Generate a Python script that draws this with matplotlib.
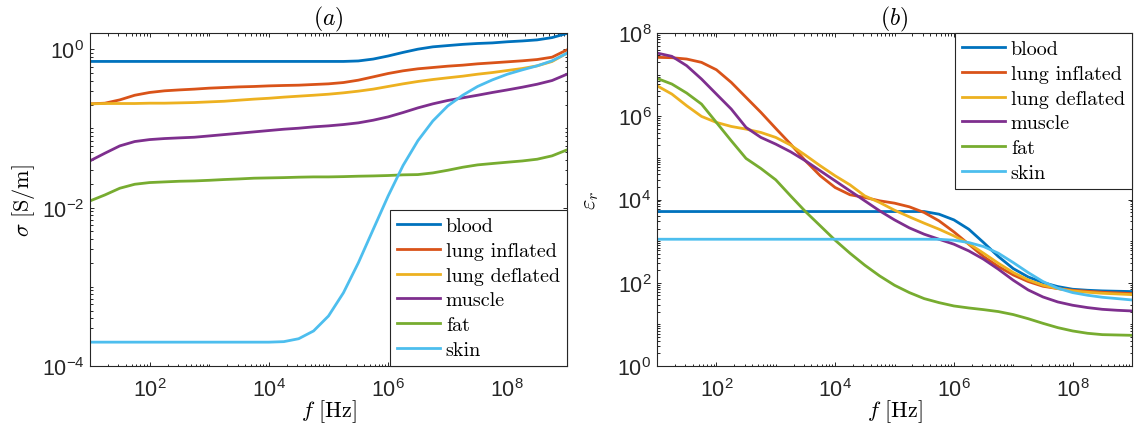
import numpy as np
import matplotlib
matplotlib.use("Agg")
import matplotlib.pyplot as plt
from matplotlib.ticker import LogLocator, FuncFormatter, NullFormatter
from matplotlib.font_manager import FontProperties

plt.rcParams['font.family'] = ['Liberation Sans', 'DejaVu Sans']
plt.rcParams['mathtext.fontset'] = 'custom'
plt.rcParams['mathtext.rm'] = 'Liberation Sans'
plt.rcParams['mathtext.it'] = 'Liberation Sans:italic'
plt.rcParams['mathtext.bf'] = 'Liberation Sans:bold'

# frequency grid in Hz (quarter-decade steps, 10 Hz .. 1 GHz)
freq = [1.00e1, 1.78e1, 3.16e1, 5.62e1, 1.00e2, 1.78e2, 3.16e2, 5.62e2,
        1.00e3, 1.78e3, 3.16e3, 5.62e3, 1.00e4, 1.78e4, 3.16e4, 5.62e4,
        1.00e5, 1.78e5, 3.16e5, 5.62e5, 1.00e6, 1.78e6, 3.16e6, 5.62e6,
        1.00e7, 1.78e7, 3.16e7, 5.62e7, 1.00e8, 1.78e8, 3.16e8, 5.62e8,
        1.00e9]

tissues = ['blood', 'lung inflated', 'lung deflated', 'muscle', 'fat', 'skin']
colors = ['#0072BD', '#D95319', '#EDB120', '#7E2F8E', '#77AC30', '#4DBEEE']

# conductivity sigma [S/m]
sigma_blood = [0.70, 0.70, 0.70, 0.70, 0.70, 0.70, 0.70, 0.70, 0.70, 0.70,
               0.70, 0.70, 0.70, 0.70, 0.70, 0.70, 0.70, 0.70, 0.71, 0.75,
               0.82, 0.91, 1.00, 1.07, 1.11, 1.15, 1.18, 1.20, 1.24, 1.27,
               1.31, 1.40, 1.58]
sigma_lung_infl = [0.204, 0.208, 0.229, 0.262, 0.284, 0.298, 0.306, 0.313,
                   0.322, 0.328, 0.334, 0.338, 0.344, 0.348, 0.351, 0.358,
                   0.365, 0.379, 0.406, 0.447, 0.493, 0.533, 0.565, 0.587,
                   0.610, 0.628, 0.653, 0.672, 0.692, 0.713, 0.740, 0.792,
                   0.98]
sigma_lung_defl = [0.204, 0.206, 0.206, 0.206, 0.208, 0.208, 0.210, 0.212,
                   0.216, 0.220, 0.227, 0.234, 0.240, 0.248, 0.255, 0.262,
                   0.270, 0.281, 0.295, 0.313, 0.338, 0.365, 0.391, 0.414,
                   0.435, 0.456, 0.483, 0.507, 0.538, 0.570, 0.616, 0.699,
                   0.89]
sigma_muscle = [0.0389, 0.0486, 0.0601, 0.0682, 0.0722, 0.0744, 0.0759, 0.0773,
                0.0803, 0.0835, 0.0868, 0.0903, 0.0939, 0.0976, 0.1005, 0.1045,
                0.1076, 0.1118, 0.1174, 0.1268, 0.1397, 0.1585, 0.1815, 0.204,
                0.225, 0.243, 0.262, 0.284, 0.306, 0.331, 0.361, 0.402,
                0.483]
sigma_fat = [0.01214, 0.01445, 0.01755, 0.0197, 0.0207, 0.0211, 0.0215, 0.0217,
             0.0221, 0.0226, 0.0230, 0.0235, 0.0237, 0.0239, 0.0242, 0.0244,
             0.0244, 0.0246, 0.0249, 0.0251, 0.0254, 0.0259, 0.0261, 0.0274,
             0.0296, 0.0323, 0.0346, 0.0360, 0.0374, 0.0388, 0.0408, 0.0450,
             0.0535]
sigma_skin = [2.0e-4, 2.0e-4, 2.0e-4, 2.0e-4, 2.0e-4, 2.0e-4, 2.0e-4, 2.0e-4,
              2.0e-4, 2.0e-4, 2.0e-4, 2.0e-4, 2.0e-4, 2.03e-4, 2.21e-4, 2.77e-4,
              4.28e-4, 8.4e-4, 2.0e-3, 5.3e-3, 0.014, 0.034, 0.070, 0.124,
              0.192, 0.262, 0.338, 0.410, 0.483, 0.548, 0.616, 0.713,
              0.89]

# relative permittivity eps_r
eps_blood = [5140, 5140, 5140, 5140, 5140, 5140, 5140, 5140, 5140, 5140,
             5140, 5140, 5140, 5140, 5140, 5140, 5140, 5140, 5140, 4440,
             3240, 1935, 925, 426, 219, 138, 101, 80.9, 69.8, 66.0,
             63.7, 62.5, 61.4]
eps_lung_infl = [2.60e7, 2.55e7, 2.37e7, 1.97e7, 1.31e7, 6.51e6, 2.84e6, 1.24e6,
                 5.10e5, 2.14e5, 8.51e4, 3.71e4, 1.94e4, 1.30e4, 1.12e4, 9290,
                 8170, 6670, 4870, 3070, 1670, 844, 426, 245,
                 154, 107, 82.4, 72.4, 66.0, 62.5, 59.1, 57.0,
                 54.9]
eps_lung_defl = [5.41e6, 3.41e6, 1.79e6, 9.91e5, 7.11e5, 5.69e5, 4.91e5, 4.08e5,
                 3.10e5, 2.03e5, 1.16e5, 6.45e4, 3.71e4, 2.25e4, 1.22e4, 8470,
                 5540, 3830, 2700, 1935, 1337, 875, 512, 294,
                 176, 117, 87.1, 72.4, 63.7, 59.1, 55.9, 53.8,
                 51.9]
eps_muscle = [3.30e7, 2.75e7, 1.64e7, 7.83e6, 3.41e6, 1.49e6, 5.39e5, 3.10e5,
              2.14e5, 1.40e5, 8.51e4, 4.89e4, 2.81e4, 1.61e4, 9290, 5340,
              3240, 2080, 1466, 1110, 844, 583, 368, 211,
              115, 67.3, 45.6, 34.6, 28.8, 25.3, 23.0, 21.8,
              21.0]
eps_fat = [8.13e6, 5.94e6, 3.61e6, 1.96e6, 7.11e5, 2.58e5, 9.69e4, 5.56e4,
           2.97e4, 1.22e4, 5140, 2330, 1052, 512, 264, 146,
           87.1, 58.0, 41.6, 33.3, 27.7, 24.8, 22.6, 20.3,
           17.2, 13.7, 10.6, 8.35, 6.95, 6.11, 5.67, 5.56,
           5.46]
eps_skin = [1110, 1110, 1110, 1110, 1110, 1110, 1110, 1110, 1110, 1110,
            1110, 1110, 1110, 1110, 1110, 1110, 1110, 1110, 1110, 1105,
            1052, 925, 741, 512, 305, 176, 107, 73.8, 58.0, 50.1,
            44.8, 41.6, 38.6]

sigma_sets = [sigma_blood, sigma_lung_infl, sigma_lung_defl, sigma_muscle, sigma_fat, sigma_skin]
eps_sets = [eps_blood, eps_lung_infl, eps_lung_defl, eps_muscle, eps_fat, eps_skin]

axis_color = '#262626'
legend_font = FontProperties(family='cmr10', size=14.5)

fig = plt.figure(figsize=(11.42, 4.39), dpi=100)
ax1 = fig.add_axes([90 / 1142, 72 / 439, 477 / 1142, 333 / 439])
ax2 = fig.add_axes([657 / 1142, 72 / 439, 475 / 1142, 333 / 439])


def sci(v, pos):
    e = int(round(np.log10(v)))
    return r'$\mathdefault{10^{%d}}$' % e


def style(ax, ylo, yhi, ystep):
    ax.set_xscale('log')
    ax.set_yscale('log')
    ax.set_xlim(10, 1e9)
    ax.set_ylim(ylo, yhi)
    ax.xaxis.set_major_locator(LogLocator(base=100, numticks=20))
    ax.xaxis.set_minor_locator(LogLocator(base=10, subs=np.arange(1, 10), numticks=40))
    ax.yaxis.set_major_locator(LogLocator(base=10 ** ystep, numticks=20))
    ax.yaxis.set_minor_locator(LogLocator(base=10, subs=np.arange(1, 10), numticks=40))
    ax.xaxis.set_major_formatter(FuncFormatter(sci))
    ax.yaxis.set_major_formatter(FuncFormatter(sci))
    ax.xaxis.set_minor_formatter(NullFormatter())
    ax.yaxis.set_minor_formatter(NullFormatter())
    ax.tick_params(which='both', direction='in', top=True, right=True,
                   color=axis_color, width=0.7)
    ax.tick_params(which='major', length=3.2, labelsize=15.5, labelcolor=axis_color)
    ax.tick_params(which='minor', length=1.8)
    ax.tick_params(axis='x', which='major', pad=9)
    ax.tick_params(axis='y', which='major', pad=4)
    for s in ax.spines.values():
        s.set_color(axis_color)
        s.set_linewidth(0.8)


for data, name, c in zip(sigma_sets, tissues, colors):
    ax1.plot(freq, data, color=c, lw=2.0, label=name, solid_joinstyle='round')
for data, name, c in zip(eps_sets, tissues, colors):
    ax2.plot(freq, data, color=c, lw=2.0, label=name, solid_joinstyle='round')

style(ax1, 1e-4, 1.6, 2)
style(ax2, 1, 1e8, 2)

ax1.set_title(r'$(a)$', fontsize=17, math_fontfamily='cm', pad=6)
ax2.set_title(r'$(b)$', fontsize=17, math_fontfamily='cm', pad=6)
for ax in (ax1, ax2):
    ax.set_xlabel(r'$f\ \mathrm{[Hz]}$', fontsize=16, math_fontfamily='cm')
    ax.xaxis.set_label_coords(0.5, -0.093)
ax1.set_ylabel(r'$\sigma\ \mathrm{[S/m]}$', fontsize=16, math_fontfamily='cm')
ax1.yaxis.set_label_coords(-0.111, 0.5)
ax2.set_ylabel(r'$\varepsilon_r$', fontsize=16, math_fontfamily='cm')
ax2.yaxis.set_label_coords(-0.118, 0.5)

leg_kw = dict(prop=legend_font, frameon=True, fancybox=False, framealpha=1,
              edgecolor=axis_color, borderaxespad=0, handlelength=2.1,
              handletextpad=0.3, labelspacing=0.33, borderpad=0.35)
l1 = ax1.legend(loc='lower right', bbox_to_anchor=(1, 0), **leg_kw)
l2 = ax2.legend(loc='upper right', bbox_to_anchor=(1, 1), **leg_kw)
for lg in (l1, l2):
    lg.get_frame().set_linewidth(0.8)

fig.savefig('out.png', dpi=100)
